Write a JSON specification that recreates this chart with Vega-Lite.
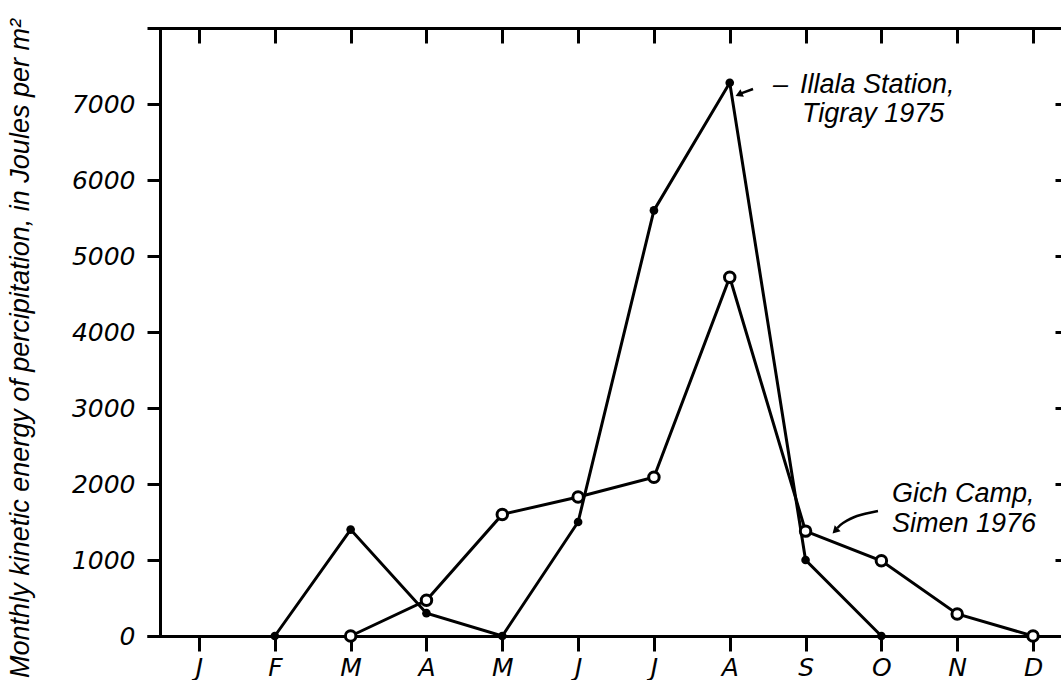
{
  "$schema": "https://vega.github.io/schema/vega-lite/v6.json",
  "width": 914,
  "height": 608,
  "autosize": {"type": "none"},
  "padding": {"left": 147, "top": 28, "right": 0, "bottom": 44},
  "background": "white",
  "config": {"view": {"stroke": null}, "font": "Liberation Sans"},
  "datasets": {
    "energy": [
      {"site": "Illala Station", "month": 2, "energy": 0},
      {"site": "Illala Station", "month": 3, "energy": 1400},
      {"site": "Illala Station", "month": 4, "energy": 300},
      {"site": "Illala Station", "month": 5, "energy": 0},
      {"site": "Illala Station", "month": 6, "energy": 1500},
      {"site": "Illala Station", "month": 7, "energy": 5600},
      {"site": "Illala Station", "month": 8, "energy": 7280},
      {"site": "Illala Station", "month": 9, "energy": 1000},
      {"site": "Illala Station", "month": 10, "energy": 0},
      {"site": "Gich Camp", "month": 3, "energy": 0},
      {"site": "Gich Camp", "month": 4, "energy": 470},
      {"site": "Gich Camp", "month": 5, "energy": 1600},
      {"site": "Gich Camp", "month": 6, "energy": 1830},
      {"site": "Gich Camp", "month": 7, "energy": 2090},
      {"site": "Gich Camp", "month": 8, "energy": 4720},
      {"site": "Gich Camp", "month": 9, "energy": 1380},
      {"site": "Gich Camp", "month": 10, "energy": 990},
      {"site": "Gich Camp", "month": 11, "energy": 290},
      {"site": "Gich Camp", "month": 12, "energy": 0}
    ],
    "labels": [
      {"text": "–", "month": 8.571, "energy": 7145},
      {"text": "Illala Station,", "month": 8.927, "energy": 7145},
      {"text": "Tigray 1975", "month": 8.953, "energy": 6763},
      {"text": "Gich Camp,", "month": 10.14, "energy": 1763},
      {"text": "Simen 1976", "month": 10.14, "energy": 1368}
    ],
    "arrows": [
      {"id": "illala", "order": 1, "month": 8.307, "energy": 7197},
      {"id": "illala", "order": 2, "month": 8.15, "energy": 7140},
      {"id": "gich", "order": 1, "month": 9.955, "energy": 1645},
      {"id": "gich", "order": 2, "month": 9.678, "energy": 1579},
      {"id": "gich", "order": 3, "month": 9.494, "energy": 1487},
      {"id": "gich", "order": 4, "month": 9.42, "energy": 1420}
    ],
    "heads": [
      {"id": "illala", "month": 8.135, "energy": 7132},
      {"id": "gich", "month": 9.401, "energy": 1395}
    ]
  },
  "layer": [
    {
      "data": {"name": "energy"},
      "mark": {"type": "line", "color": "black", "strokeWidth": 3},
      "encoding": {
        "x": {
          "field": "month", "type": "quantitative",
          "scale": {"domain": [0.314, 12.369], "nice": false, "zero": false},
          "axis": {
            "orient": "bottom", "values": [1, 2, 3, 4, 5, 6, 7, 8, 9, 10, 11, 12],
            "labelExpr": "['J','F','M','A','M','J','J','A','S','O','N','D'][datum.value - 1]",
            "domainColor": "black", "domainWidth": 3,
            "tickColor": "black", "tickWidth": 3, "tickSize": 15,
            "labelFont": "DejaVu Sans", "labelFontStyle": "italic", "labelFontSize": 25,
            "labelColor": "black", "labelPadding": 4, "labelFlush": false, "labelOverlap": false,
            "title": null, "grid": false
          }
        },
        "y": {
          "field": "energy", "type": "quantitative",
          "scale": {"domain": [0, 8000], "nice": false},
          "axis": {
            "orient": "left", "offset": -13,
            "values": [0, 1000, 2000, 3000, 4000, 5000, 6000, 7000],
            "domainColor": "black", "domainWidth": 3,
            "tickColor": "black", "tickWidth": 3, "tickSize": 13,
            "labelFont": "DejaVu Sans", "labelFontStyle": "italic", "labelFontSize": 25,
            "labelColor": "black", "labelPadding": 12, "labelFlush": false, "labelOverlap": false,
            "format": "d",
            "title": "Monthly kinetic energy of percipitation, in Joules per m²",
            "titleFont": "Liberation Sans", "titleFontStyle": "italic", "titleFontWeight": "normal",
            "titleFontSize": 27, "titleColor": "black",
            "titleAngle": -90, "titleX": -132, "titleY": 320,
            "titleAlign": "center", "titleBaseline": "alphabetic",
            "grid": false
          }
        },
        "detail": {"field": "site"}
      }
    },
    {
      "data": {"name": "energy"},
      "transform": [{"filter": "datum.site === 'Illala Station'"}],
      "mark": {"type": "point", "filled": true, "color": "black", "size": 75, "opacity": 1},
      "encoding": {
        "x": {
          "field": "month", "type": "quantitative",
          "axis": {
            "orient": "top", "values": [1, 2, 3, 4, 5, 6, 7, 8, 9, 10, 11, 12],
            "labels": false, "domainColor": "black", "domainWidth": 3,
            "tickColor": "black", "tickWidth": 3, "tickSize": -15,
            "title": null, "grid": false
          }
        },
        "y": {
          "field": "energy", "type": "quantitative",
          "axis": {
            "orient": "right", "values": [1000, 2000, 3000, 4000, 5000, 6000, 7000],
            "labels": false, "domain": false,
            "tickColor": "black", "tickWidth": 3, "tickSize": -6,
            "title": null, "grid": false
          }
        }
      }
    },
    {
      "data": {"name": "energy"},
      "transform": [{"filter": "datum.site === 'Gich Camp'"}],
      "mark": {"type": "point", "filled": true, "fill": "white", "stroke": "black", "strokeWidth": 3, "size": 110, "opacity": 1},
      "encoding": {
        "x": {"field": "month", "type": "quantitative", "axis": null},
        "y": {"field": "energy", "type": "quantitative", "axis": null}
      }
    },
    {
      "data": {"name": "arrows"},
      "mark": {"type": "line", "color": "black", "strokeWidth": 2.5, "interpolate": "cardinal"},
      "encoding": {
        "x": {"field": "month", "type": "quantitative", "axis": null},
        "y": {"field": "energy", "type": "quantitative", "axis": null},
        "detail": {"field": "id"},
        "order": {"field": "order"}
      }
    },
    {
      "data": {"name": "heads"},
      "transform": [{"filter": "datum.id === 'illala'"}],
      "mark": {"type": "point", "shape": "triangle", "filled": true, "color": "black", "size": 70, "angle": 246, "opacity": 1},
      "encoding": {
        "x": {"field": "month", "type": "quantitative", "axis": null},
        "y": {"field": "energy", "type": "quantitative", "axis": null}
      }
    },
    {
      "data": {"name": "heads"},
      "transform": [{"filter": "datum.id === 'gich'"}],
      "mark": {"type": "point", "shape": "triangle", "filled": true, "color": "black", "size": 70, "angle": 225, "opacity": 1},
      "encoding": {
        "x": {"field": "month", "type": "quantitative", "axis": null},
        "y": {"field": "energy", "type": "quantitative", "axis": null}
      }
    },
    {
      "data": {"name": "labels"},
      "mark": {"type": "text", "align": "left", "baseline": "alphabetic", "font": "Liberation Sans", "fontStyle": "italic", "fontSize": 27, "color": "black"},
      "encoding": {
        "x": {"field": "month", "type": "quantitative", "axis": null},
        "y": {"field": "energy", "type": "quantitative", "axis": null},
        "text": {"field": "text"}
      }
    }
  ],
  "resolve": {"axis": {"x": "independent", "y": "independent"}}
}
